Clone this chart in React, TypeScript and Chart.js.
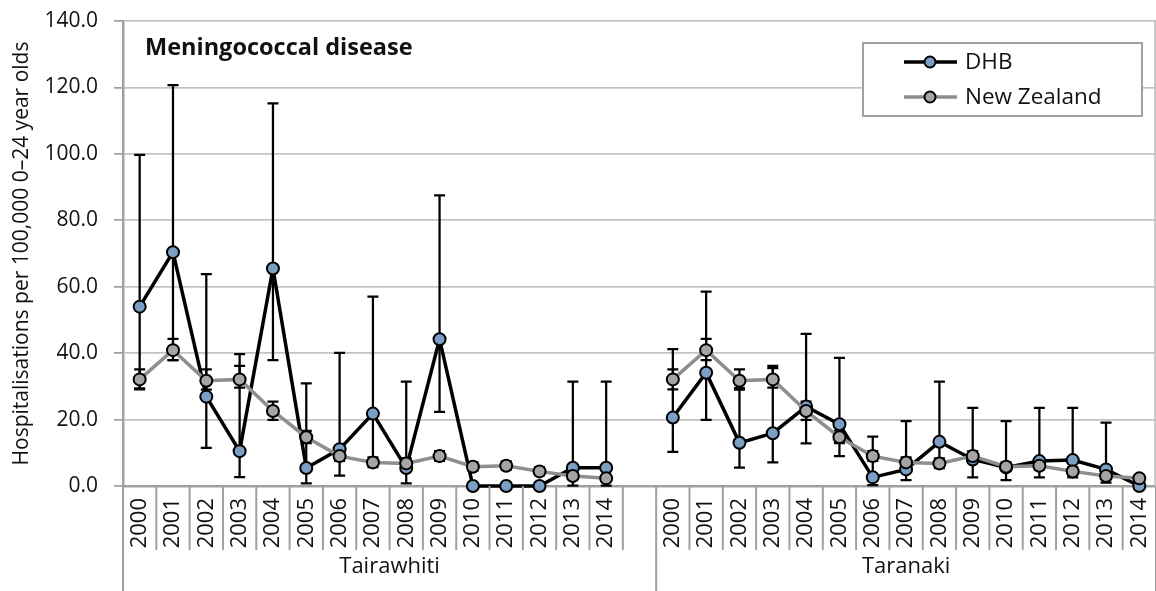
import React, { useEffect, useRef } from 'react';
import { Chart, registerables } from 'chart.js';

Chart.register(...registerables);

const FONT = '"Open Sans", "Noto Sans", "DejaVu Sans", sans-serif';
const TEXT = '#111111';
const GRID = '#c3c3c3';
const AXIS = '#a0a0a0';
const DHB_FILL = '#7b9fc4';
const NZ_FILL = '#a5a5a5';
const NZ_LINE = '#8e8e8e';

const chartTitle = 'Meningococcal disease';
const yAxisTitle = 'Hospitalisations per 100,000 0–24 year olds';
const seriesNames = ['DHB', 'New Zealand'];
const regionNames = ['Tairawhiti', 'Taranaki'];
const years = ['2000', '2001', '2002', '2003', '2004', '2005', '2006', '2007', '2008', '2009', '2010', '2011', '2012', '2013', '2014'];
const yMin = 0;
const yMax = 140;
const yStep = 20;

const tairawhitiDhb = [54.0, 70.4, 26.9, 10.5, 65.5, 5.4, 11.1, 21.8, 5.4, 44.2, 0, 0, 0, 5.5, 5.5];
const tairawhitiDhbLow = [29.4, 37.9, 11.5, 2.7, 37.9, 0.8, 3.1, 7.3, 0.8, 22.3, null, null, null, 0.1, 0.1];
const tairawhitiDhbHigh = [99.7, 120.7, 63.8, 39.7, 115.2, 30.9, 40.1, 57.0, 31.4, 87.5, null, null, null, 31.4, 31.4];

const taranakiDhb = [20.6, 34.1, 13.0, 15.9, 23.9, 18.6, 2.6, 5.0, 13.3, 8.0, 5.6, 7.5, 7.8, 5.0, 0];
const taranakiDhbLow = [10.3, 19.9, 5.5, 7.1, 12.8, 9.0, 0.3, 1.8, 6.5, 2.6, 1.8, 2.6, 2.6, 1.0, null];
const taranakiDhbHigh = [41.2, 58.5, 29.5, 35.5, 45.8, 38.6, 14.9, 19.5, 31.4, 23.5, 19.5, 23.5, 23.5, 19.1, null];

const nzRate = [32.1, 40.9, 31.7, 32.1, 22.6, 14.7, 9.0, 7.1, 6.8, 9.0, 5.8, 6.1, 4.4, 3.0, 2.3];
const nzLow = [29.1, 37.9, 29.0, 29.6, 19.9, 12.9, 7.6, 5.7, 5.4, 7.6, 4.6, 4.9, 3.3, 2.1, 1.5];
const nzHigh = [35.1, 44.3, 35.1, 36.2, 25.4, 16.6, 10.5, 8.6, 8.3, 10.5, 7.1, 7.4, 5.6, 4.1, 3.3];

// Category layout: first region + blank slot, then second region
const labels = [...years, '', ...years];
const dhbSeries = [...tairawhitiDhb, null, ...taranakiDhb];
const dhbLow = [...tairawhitiDhbLow, null, ...taranakiDhbLow];
const dhbHigh = [...tairawhitiDhbHigh, null, ...taranakiDhbHigh];
const nzSeries = [...nzRate, null, ...nzRate];
const nzSeriesLow = [...nzLow, null, ...nzLow];
const nzSeriesHigh = [...nzHigh, null, ...nzHigh];
const groupEdges = [0, years.length + 1, labels.length];

const errorBarPlugin = {
  id: 'errorBars',
  beforeDatasetsDraw(chart: any) {
    const { ctx, scales } = chart;
    const xs = scales.x;
    const ys = scales.y;
    chart.data.datasets.forEach((ds: any) => {
      if (!ds.errLow) return;
      ctx.save();
      ctx.strokeStyle = '#000';
      ctx.lineWidth = 2.25;
      for (let i = 0; i < ds.data.length; i++) {
        const lo = ds.errLow[i];
        const hi = ds.errHigh[i];
        if (lo == null || hi == null) continue;
        const px = xs.getPixelForValue(i);
        const pl = ys.getPixelForValue(lo);
        const ph = ys.getPixelForValue(hi);
        ctx.beginPath();
        ctx.moveTo(px, pl);
        ctx.lineTo(px, ph);
        ctx.moveTo(px - 5.5, pl);
        ctx.lineTo(px + 5.5, pl);
        ctx.moveTo(px - 5.5, ph);
        ctx.lineTo(px + 5.5, ph);
        ctx.stroke();
      }
      ctx.restore();
    });
  },
};

const decorPlugin = {
  id: 'decor',
  afterDraw(chart: any) {
    const { ctx, chartArea: ca, scales } = chart;
    const xs = scales.x;
    const n = chart.data.labels.length;
    const half = (xs.getPixelForValue(1) - xs.getPixelForValue(0)) / 2;
    const edge = (i: number) => (i >= n ? xs.getPixelForValue(n - 1) + half : xs.getPixelForValue(i) - half);
    ctx.save();

    // right border of plot
    ctx.strokeStyle = GRID;
    ctx.lineWidth = 1.75;
    ctx.beginPath();
    ctx.moveTo(ca.right - 1, ca.top);
    ctx.lineTo(ca.right - 1, ca.bottom);
    ctx.stroke();

    // category tick separators
    ctx.strokeStyle = AXIS;
    ctx.lineWidth = 2;
    for (let i = 0; i <= n; i++) {
      const px = edge(i);
      const full = groupEdges.includes(i);
      ctx.beginPath();
      ctx.moveTo(px, ca.bottom);
      ctx.lineTo(px, full ? chart.height : ca.bottom + 64);
      ctx.stroke();
    }

    // group labels
    ctx.fillStyle = TEXT;
    ctx.font = `22px ${FONT}`;
    ctx.textAlign = 'center';
    ctx.textBaseline = 'middle';
    for (let g = 0; g < regionNames.length; g++) {
      const cx = (edge(groupEdges[g]) + edge(groupEdges[g + 1])) / 2;
      ctx.fillText(regionNames[g], cx, ca.bottom + 81);
    }

    // chart title
    ctx.font = `bold 23.5px ${FONT}`;
    ctx.textAlign = 'left';
    ctx.textBaseline = 'alphabetic';
    ctx.fillText(chartTitle, ca.left + 22, ca.top + 34);

    // legend
    const bx = ca.right - 293;
    const by = ca.top + 22;
    const bw = 279;
    const bh = 73;
    ctx.fillStyle = '#fff';
    ctx.fillRect(bx, by, bw, bh);
    ctx.strokeStyle = AXIS;
    ctx.lineWidth = 2;
    ctx.strokeRect(bx, by, bw, bh);
    const rows = [
      { name: seriesNames[0], line: '#000', fill: DHB_FILL, y: by + 19 },
      { name: seriesNames[1], line: NZ_LINE, fill: NZ_FILL, y: by + 54 },
    ];
    rows.forEach((r) => {
      ctx.strokeStyle = r.line;
      ctx.lineWidth = 3.5;
      ctx.beginPath();
      ctx.moveTo(bx + 41, r.y);
      ctx.lineTo(bx + 94, r.y);
      ctx.stroke();
      ctx.beginPath();
      ctx.arc(bx + 67, r.y, 5.5, 0, Math.PI * 2);
      ctx.fillStyle = r.fill;
      ctx.fill();
      ctx.strokeStyle = '#000';
      ctx.lineWidth = 2;
      ctx.stroke();
      ctx.fillStyle = TEXT;
      ctx.font = `22.5px ${FONT}`;
      ctx.textAlign = 'left';
      ctx.textBaseline = 'middle';
      ctx.fillText(r.name, bx + 102, r.y + 1);
    });

    ctx.restore();
  },
};

export default function App() {
  const canvasRef = useRef<HTMLCanvasElement | null>(null);

  useEffect(() => {
    if (!canvasRef.current) return;
    const chart = new Chart(canvasRef.current, {
      type: 'line',
      data: {
        labels,
        datasets: [
          {
            label: seriesNames[0],
            data: dhbSeries,
            order: 2,
            borderColor: '#000',
            borderWidth: 3.5,
            pointRadius: 6,
            pointBorderWidth: 2,
            pointBackgroundColor: DHB_FILL,
            pointBorderColor: '#000',
            spanGaps: false,
            tension: 0,
            clip: false,
            errLow: dhbLow,
            errHigh: dhbHigh,
          } as any,
          {
            label: seriesNames[1],
            data: nzSeries,
            order: 1,
            borderColor: NZ_LINE,
            borderWidth: 3.5,
            pointRadius: 6,
            pointBorderWidth: 2,
            pointBackgroundColor: NZ_FILL,
            pointBorderColor: '#000',
            spanGaps: false,
            tension: 0,
            clip: false,
            errLow: nzSeriesLow,
            errHigh: nzSeriesHigh,
          } as any,
        ],
      },
      options: {
        responsive: false,
        animation: false,
        events: [],
        layout: { autoPadding: false, padding: { top: 21, left: 0, right: 0, bottom: 0 } },
        plugins: {
          legend: { display: false },
          tooltip: { enabled: false },
          title: { display: false },
        },
        scales: {
          x: {
            type: 'category',
            offset: true,
            grid: { display: false, drawTicks: false },
            border: { display: true, color: AXIS, width: 2.5 },
            ticks: {
              autoSkip: false,
              maxRotation: 90,
              minRotation: 90,
              padding: 12,
              color: TEXT,
              font: { family: FONT, size: 22 },
            },
            afterFit: (s: any) => {
              s.height = 105;
              s.paddingLeft = 0;
              s.paddingRight = 0;
            },
          },
          y: {
            min: yMin,
            max: yMax,
            ticks: {
              stepSize: yStep,
              callback: (v: any) => Number(v).toFixed(1),
              padding: 16,
              color: TEXT,
              font: { family: FONT, size: 21 },
            },
            grid: { color: GRID, lineWidth: 1.75, tickLength: 9, tickColor: AXIS, drawTicks: true },
            border: { display: true, color: AXIS, width: 2.5 },
            title: {
              display: true,
              text: yAxisTitle,
              color: TEXT,
              font: { family: FONT, size: 21 },
              padding: { top: 9, bottom: 0 },
            },
            afterFit: (s: any) => {
              s.width = 123;
              s.paddingTop = 0;
              s.paddingBottom = 0;
            },
          },
        },
      } as any,
      plugins: [errorBarPlugin, decorPlugin],
    });
    return () => chart.destroy();
  }, []);

  return (
    <canvas
      ref={canvasRef}
      width={1156}
      height={591}
      style={{ position: 'fixed', left: 0, top: 0, width: 1156, height: 591, display: 'block' }}
    />
  );
}
